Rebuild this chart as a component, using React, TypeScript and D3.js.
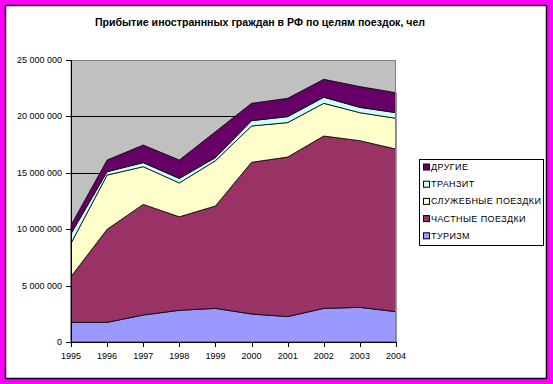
import React from "react";
import * as d3 from "d3";

const years = [1995, 1996, 1997, 1998, 1999, 2000, 2001, 2002, 2003, 2004];
const tourism = [1740000, 1740000, 2390000, 2810000, 2980000, 2480000, 2250000, 2980000, 3070000, 2690000];
const privateTrips = [4060000, 8250000, 9810000, 8290000, 9080000, 13450000, 14150000, 15280000, 14780000, 14410000];
const business = [2950000, 4810000, 3340000, 3000000, 4010000, 3220000, 3050000, 2900000, 2480000, 2730000];
const transit = [850000, 300000, 360000, 400000, 280000, 470000, 530000, 540000, 470000, 500000];
const other = [750000, 1030000, 1560000, 1630000, 2290000, 1540000, 1620000, 1590000, 1840000, 1770000];
const yTicks = [0, 5000000, 10000000, 15000000, 20000000, 25000000];

const seriesNames = ["ТУРИЗМ", "ЧАСТНЫЕ ПОЕЗДКИ", "СЛУЖЕБНЫЕ ПОЕЗДКИ", "ТРАНЗИТ", "ДРУГИЕ"];
const seriesValues = [tourism, privateTrips, business, transit, other];
const colors = ["#9999FF", "#993366", "#FFFFCC", "#CCFFFF", "#660066"];
const title = "Прибытие иностраннных граждан в РФ по целям поездок, чел";

const W = 553, H = 384;
const L = 71, R = 396, T = 60, B = 342;
const FONT = "Arial, 'Liberation Sans', sans-serif";

function fmt(v: number) {
  return d3.format(",")(v).replace(/,/g, " ");
}

export default function App() {
  const x = d3.scaleLinear().domain([years[0], years[years.length - 1]]).range([L, R]);
  const y = d3.scaleLinear().domain([0, 25000000]).range([B, T]);
  const rows = years.map((yr, i) => {
    const r: any = { year: yr };
    seriesNames.forEach((n, k) => (r[n] = seriesValues[k][i]));
    return r;
  });
  const stacked = d3.stack().keys(seriesNames)(rows);
  const area = d3
    .area<any>()
    .x((d) => x(d.data.year))
    .y0((d) => y(d[0]))
    .y1((d) => y(d[1]));

  const legendOrder = [4, 3, 2, 1, 0];

  return (
    <svg width={W} height={H} style={{ position: "absolute", left: 0, top: 0 }} fontFamily={FONT}>
      <rect x={0} y={0} width={W} height={H} fill="#FF00FF" />
      <rect x={5.5} y={5.5} width={541} height={373} fill="#FFFFFF" stroke="#000" strokeWidth={1.5} />
      <text x={260} y={26} textAnchor="middle" fontSize={10.6} fontWeight="bold" fill="#000">
        {title}
      </text>
      <rect x={L} y={T} width={R - L} height={B - T} fill="#C0C0C0" />
      {yTicks.slice(1, -1).map((t) => (
        <line key={t} x1={L} x2={R} y1={Math.round(y(t)) + 0.5} y2={Math.round(y(t)) + 0.5} stroke="#000" strokeWidth={1} />
      ))}
      {stacked.map((s, k) => (
        <path key={k} d={area(s as any) || ""} fill={colors[k]} stroke="#000" strokeWidth={0.8} strokeLinejoin="round" />
      ))}
      <rect x={L} y={T + 0.5} width={R - L - 0.5} height={B - T - 0.5} fill="none" stroke="#808080" strokeWidth={1} />
      <line x1={L + 0.5} x2={L + 0.5} y1={T} y2={B} stroke="#000" />
      <line x1={L} x2={R} y1={B + 0.5} y2={B + 0.5} stroke="#000" />
      {yTicks.map((t) => (
        <g key={t}>
          <line x1={L - 5} x2={L} y1={Math.round(y(t)) + 0.5} y2={Math.round(y(t)) + 0.5} stroke="#000" />
          <text x={L - 9} y={y(t) + 3} textAnchor="end" fontSize={9} fill="#000">
            {fmt(t)}
          </text>
        </g>
      ))}
      {years.map((yr) => (
        <g key={yr}>
          <line x1={Math.round(x(yr)) + 0.5} x2={Math.round(x(yr)) + 0.5} y1={B} y2={B + 5} stroke="#000" />
          <text x={x(yr)} y={359} textAnchor="middle" fontSize={9} fill="#000">
            {yr}
          </text>
        </g>
      ))}
      <rect x={419.5} y={159.5} width={124} height={86} fill="#FFF" stroke="#000" strokeWidth={1} />
      {legendOrder.map((k, i) => {
        const cy = 166.5 + i * 17.2;
        return (
          <g key={k}>
            <rect x={423.5} y={cy - 2.5} width={6} height={6} fill={colors[k]} stroke="#000" strokeWidth={1} />
            <text x={431} y={cy + 3.5} fontSize={9} fill="#000" letterSpacing={0.4}>
              {seriesNames[k]}
            </text>
          </g>
        );
      })}
    </svg>
  );
}
